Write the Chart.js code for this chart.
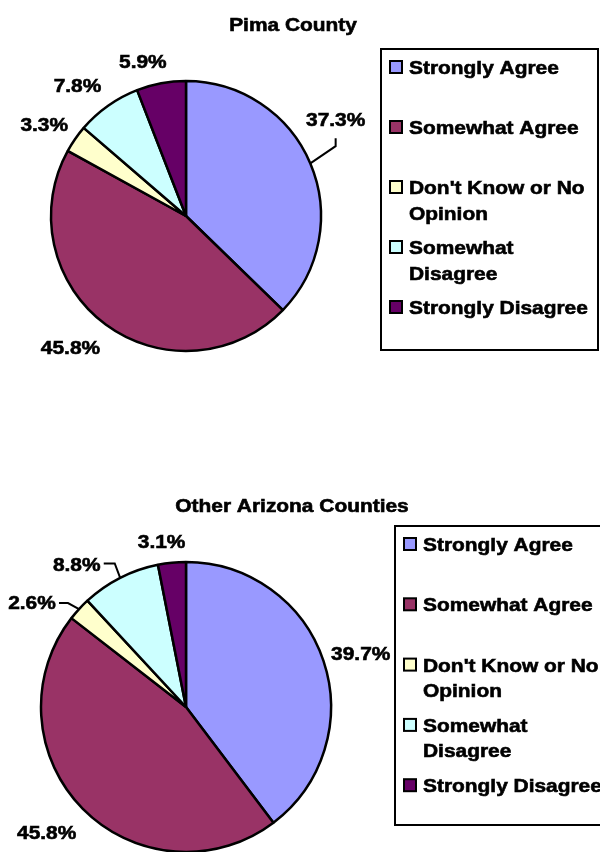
<!DOCTYPE html>
<html lang="en">
<head>
    <meta charset="UTF-8">
    <title>Pima County vs Other Arizona Counties</title>
    <style>
        body {
            margin: 0;
            background-color: #FFFFFF;
        }
        #page {
            position: relative;
            width: 600px;
            height: 852px;
            overflow: hidden;
        }
        .pieBox {
            position: absolute;
            left: 0;
            width: 600px;
            height: 426px;
        }
    </style>
    <script src="https://cdn.jsdelivr.net/npm/chart.js"></script>
</head>
<body>
    <div id="page">
        <div class="pieBox" style="top:0px;"><canvas id="pimaChart"></canvas></div>
        <div class="pieBox" style="top:426px;"><canvas id="otherChart"></canvas></div>
    </div>

    <script>
        // Daten
        const categories = ['Strongly Agree', 'Somewhat Agree', "Don't Know or No Opinion", 'Somewhat Disagree', 'Strongly Disagree'];
        const pimaValues = [37.3, 45.8, 3.3, 7.8, 5.9];
        const otherValues = [39.7, 45.8, 2.6, 8.8, 3.1];
        const sliceColors = ['#9999FF', '#993366', '#FFFFCC', '#CCFFFF', '#660066'];

        const FONT = 'bold 19px "Liberation Sans", Arial, Helvetica, sans-serif';
        const STRETCH = 1.1;

        // Text etwas breiter und kräftiger zeichnen, wie im Original
        function drawText(ctx, s, x, y, align) {
            ctx.save();
            ctx.translate(x, y);
            ctx.scale(STRETCH, 1);
            ctx.textAlign = align || 'left';
            ctx.textBaseline = 'alphabetic';
            ctx.fillStyle = '#000';
            ctx.strokeStyle = '#000';
            ctx.lineWidth = 0.6;
            ctx.fillText(s, 0, 0);
            ctx.strokeText(s, 0, 0);
            ctx.restore();
        }

        function wrapWords(ctx, s, maxWidth) {
            const words = s.split(' ');
            const lines = [];
            let line = '';
            words.forEach(w => {
                const test = line ? line + ' ' + w : w;
                if (line && ctx.measureText(test).width * STRETCH > maxWidth) {
                    lines.push(line);
                    line = w;
                } else {
                    line = test;
                }
            });
            if (line) lines.push(line);
            return lines;
        }

        // Titel, Prozentwerte mit Führungslinien und Legende
        const pieDecor = {
            id: 'pieDecor',
            afterDraw(chart, args, opts) {
                const ctx = chart.ctx;
                const meta = chart.getDatasetMeta(0);
                const values = chart.data.datasets[0].data;
                ctx.save();
                ctx.font = FONT;

                drawText(ctx, opts.title, opts.titleX, opts.titleY, 'center');

                meta.data.forEach((arc, i) => {
                    const p = arc.getProps(['x', 'y', 'startAngle', 'endAngle', 'outerRadius'], true);
                    const mid = (p.startAngle + p.endAngle) / 2;
                    const r = p.outerRadius + opts.labelGap;
                    const nudge = opts.nudges[i];
                    const lx = p.x + Math.cos(mid) * r + nudge[0];
                    const ly = p.y + Math.sin(mid) * r + nudge[1];
                    const leader = opts.leaders[i];
                    if (leader) {
                        ctx.strokeStyle = '#000';
                        ctx.lineWidth = 2;
                        ctx.beginPath();
                        ctx.moveTo(p.x + Math.cos(mid) * p.outerRadius, p.y + Math.sin(mid) * p.outerRadius);
                        leader.forEach(pt => ctx.lineTo(lx + pt[0], ly + pt[1]));
                        ctx.stroke();
                    }
                    drawText(ctx, values[i].toFixed(1) + '%', lx, ly + 7, 'center');
                });

                // Legende
                const lg = opts.legend;
                ctx.fillStyle = '#FFF';
                ctx.fillRect(lg.x, lg.y, lg.w, lg.h);
                ctx.strokeStyle = '#000';
                ctx.lineWidth = 2;
                ctx.strokeRect(lg.x, lg.y, lg.w, lg.h);
                chart.data.labels.forEach((label, i) => {
                    const base = lg.y + 25 + i * lg.step;
                    ctx.fillStyle = chart.data.datasets[0].backgroundColor[i];
                    ctx.fillRect(lg.x + 9, base - 13, 12, 12);
                    ctx.strokeStyle = '#000';
                    ctx.lineWidth = 2;
                    ctx.strokeRect(lg.x + 9, base - 13, 12, 12);
                    wrapWords(ctx, label, 186).forEach((line, k) => {
                        drawText(ctx, line, lg.x + 28, base + k * 25.5, 'left');
                    });
                });
                ctx.restore();
            }
        };

        function makePie(canvasId, values, radius, padding, decor) {
            return new Chart(document.getElementById(canvasId), {
                type: 'pie',
                data: {
                    labels: categories,
                    datasets: [{
                        data: values,
                        backgroundColor: sliceColors,
                        borderColor: '#000000',
                        borderWidth: 2.5,
                        radius: radius,
                        clip: false
                    }]
                },
                options: {
                    responsive: false,
                    animation: false,
                    layout: { padding: padding },
                    plugins: {
                        legend: { display: false },
                        tooltip: { enabled: false },
                        title: { display: false },
                        pieDecor: decor
                    }
                },
                plugins: [pieDecor]
            });
        }

        document.addEventListener('DOMContentLoaded', function() {
            ['pimaChart', 'otherChart'].forEach(id => {
                const c = document.getElementById(id);
                c.width = 600;
                c.height = 426;
                c.style.width = '600px';
                c.style.height = '426px';
            });

            makePie('pimaChart', pimaValues, 135,
                { left: 46, right: 274, top: 76, bottom: 70 },
                {
                    title: 'Pima County', titleX: 293, titleY: 31,
                    labelGap: 34,
                    nudges: [[-6, -31], [-15, -5], [-3, 4], [-11, 7], [-12, 11]],
                    leaders: [[[0, 27], [0, 19]], null, null, null, null],
                    legend: { x: 381, y: 49, w: 217, h: 301, step: 60 }
                });

            makePie('otherChart', otherValues, 145,
                { left: 46, right: 274, top: 141, bottom: 5 },
                {
                    title: 'Other Arizona Counties', titleX: 292, titleY: 86,
                    labelGap: 34,
                    nudges: [[5, 3], [-12, -1], [-22, 16], [-28, 16], [-7, 12]],
                    leaders: [null, null, [[36, 1], [27, 1]], [[38, 0], [27, 0]], null],
                    legend: { x: 395, y: 100, w: 215, h: 299, step: 60.3 }
                });
        });
    </script>
</body>
</html>
